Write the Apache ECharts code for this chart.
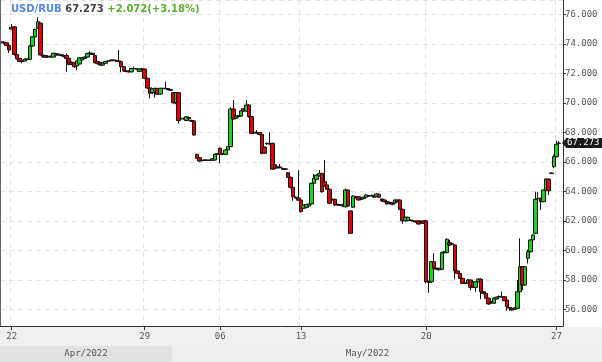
<!DOCTYPE html>
<html><head><meta charset="utf-8">
<script src="https://cdn.jsdelivr.net/npm/echarts@6/dist/echarts.min.js"></script>
<style>html,body{margin:0;padding:0;background:#fff}#c{width:602px;height:362px}</style>
</head><body><div id="c"></div>
<script>
const symbol = 'USD/RUB';
const prevClose = 65.201;
const sessions = [['2022-04-21',4],['2022-04-22',10],['2022-04-25',10],['2022-04-26',10],['2022-04-27',11],['2022-04-28',10],
  ['2022-04-29',11],['2022-05-04',9],['2022-05-05',9],['2022-05-06',10],['2022-05-11',11],['2022-05-12',10],
  ['2022-05-13',10],['2022-05-16',10],['2022-05-17',9],['2022-05-18',10],['2022-05-19',9],
  ['2022-05-20',10],['2022-05-23',10],['2022-05-24',10],['2022-05-25',10],['2022-05-26',10],['2022-05-27',2]];
const tickDates = ['2022-04-22','2022-04-29','2022-05-06','2022-05-13','2022-05-20','2022-05-27'];
const months = [['2022-04','Apr/2022'],['2022-05','May/2022']];

const opens = [74.08,74.12,74.07,73.88,75.00,75.15,73.28,73.00,72.90,72.83,72.95,72.95,73.85,74.46,75.05,75.40,73.24,73.20,73.10,73.17,
73.10,73.22,73.30,73.25,73.20,73.20,73.02,72.75,72.72,72.50,72.63,72.90,73.00,73.10,73.32,73.35,73.20,72.80,72.72,72.56,
72.68,72.80,72.85,72.90,72.88,72.85,72.79,72.45,72.16,72.14,72.10,72.33,72.30,72.12,72.29,72.29,71.66,71.02,70.70,70.80,
70.98,70.60,70.98,70.96,70.97,70.90,70.69,70.00,70.69,68.90,68.95,68.80,69.00,68.80,68.77,66.51,66.28,66.08,66.10,66.12,
66.10,66.10,66.12,66.50,66.92,66.50,66.50,66.80,67.03,69.58,68.95,69.12,69.10,69.60,69.44,69.85,69.06,67.95,68.00,67.98,
67.86,67.00,67.22,67.20,67.25,65.80,65.60,65.65,65.55,65.52,65.26,64.95,64.27,63.60,63.55,63.41,62.85,62.90,63.00,63.14,
64.54,64.81,65.05,65.22,64.65,64.43,64.14,63.45,63.46,63.12,63.08,63.10,62.95,64.09,62.67,62.92,63.63,63.63,63.45,63.50,
63.60,63.70,63.70,63.72,63.63,63.80,63.48,63.41,63.30,63.25,63.20,63.20,63.41,63.41,62.78,62.00,62.02,62.05,62.00,61.98,
62.00,61.95,62.00,62.00,57.90,57.87,59.23,58.78,58.78,58.71,59.84,59.84,60.52,60.45,60.36,58.60,58.44,58.10,57.80,57.76,
57.99,57.85,57.49,57.87,58.05,57.19,57.08,56.75,56.50,56.41,56.70,56.85,56.85,56.85,56.63,56.12,56.07,56.00,56.07,57.19,
58.89,57.65,59.46,59.90,60.70,61.15,63.50,63.53,63.30,64.04,64.83,65.20,65.67,66.35,67.25];
const closes = [74.12,74.06,73.88,73.58,75.12,73.28,72.98,72.80,72.80,72.97,72.96,73.85,74.48,74.98,75.50,73.24,73.13,73.08,73.15,73.10,
73.36,73.33,73.25,73.20,73.13,73.00,72.60,72.62,72.45,72.83,73.05,73.05,73.10,73.35,73.38,73.28,72.72,72.65,72.56,72.70,
72.80,72.84,72.90,72.86,72.84,72.80,72.45,72.16,72.12,72.10,72.33,72.31,72.27,72.29,72.30,71.66,71.00,70.64,70.95,70.98,
70.58,70.98,70.96,70.98,70.90,70.85,70.00,70.69,68.80,68.95,68.92,69.05,68.90,68.75,67.82,66.24,66.05,66.10,66.12,66.10,
66.12,66.20,66.51,66.55,66.50,66.55,66.80,67.03,69.58,68.90,69.10,69.08,69.45,69.44,69.85,69.06,67.93,68.00,67.95,67.85,
66.58,66.58,67.25,67.25,65.50,65.55,65.65,65.60,65.50,65.50,64.95,64.27,63.63,63.55,63.40,62.62,63.07,63.10,63.14,64.54,
64.88,65.10,65.20,63.97,64.36,64.14,63.19,63.42,63.07,63.08,63.05,63.00,64.09,63.00,61.15,63.68,63.58,63.41,63.48,63.60,
63.75,63.68,63.72,63.60,63.82,63.60,63.35,63.30,63.14,63.20,63.12,63.41,63.30,62.78,62.00,62.24,62.24,62.02,61.98,61.92,
61.78,61.90,61.82,57.87,57.82,59.23,58.78,58.72,58.68,59.84,59.90,60.75,60.36,60.40,58.60,58.44,58.10,57.76,57.78,57.99,
57.49,57.50,57.87,58.05,57.19,57.08,56.75,56.36,56.45,56.75,56.82,56.88,56.83,56.58,56.18,56.08,55.95,56.10,57.19,58.89,
57.65,58.89,59.90,60.70,61.04,63.46,63.53,63.30,64.09,64.83,64.04,65.24,66.35,67.19,67.273];
const lows = [74.02,74.00,73.85,73.38,74.95,73.20,72.95,72.75,72.68,72.80,72.90,72.90,73.80,74.40,75.00,73.20,73.05,73.05,73.08,73.05,
73.08,73.20,73.20,73.15,73.10,72.10,72.55,72.55,72.36,72.22,72.60,72.85,72.95,73.05,73.28,73.25,72.68,72.60,72.50,72.52,
72.64,72.76,72.82,72.82,72.80,72.78,72.07,72.10,72.06,72.05,72.06,72.28,72.22,72.08,72.24,71.60,70.95,70.30,70.60,70.35,
70.55,70.55,70.92,70.92,70.85,70.80,69.95,69.90,68.60,68.85,68.85,68.75,68.85,68.70,67.77,66.20,66.00,66.05,66.07,66.07,
66.08,66.08,66.10,66.45,65.90,66.45,66.45,66.75,67.00,68.85,68.90,69.00,69.05,69.40,69.40,69.00,67.90,67.90,67.90,67.80,
66.50,66.55,67.15,67.15,65.45,65.50,65.55,65.55,65.45,65.45,64.90,64.20,63.36,63.50,63.36,62.55,62.80,62.85,62.95,63.10,
64.50,64.75,65.00,63.90,64.30,64.10,63.15,63.38,63.00,63.02,63.00,62.96,62.90,62.95,61.10,62.90,63.50,63.38,63.40,63.46,
63.56,63.62,63.65,63.55,63.60,63.55,63.30,63.25,63.10,63.12,63.05,63.15,63.25,62.72,61.80,61.95,61.98,61.98,61.94,61.88,
61.74,61.85,61.78,57.76,57.13,57.80,58.72,58.65,58.62,58.65,59.78,59.80,60.30,60.35,58.03,58.40,58.05,57.70,57.72,57.72,
57.30,57.45,57.19,57.82,56.68,57.00,56.70,56.30,56.38,56.38,56.66,56.80,56.80,56.55,55.90,55.90,55.90,55.95,56.05,57.15,
57.30,57.60,59.10,59.85,60.65,61.10,62.73,62.73,63.25,64.00,63.75,65.18,65.56,66.30,67.20];
const highs = [74.16,74.15,74.10,73.90,75.35,75.20,73.30,73.02,72.95,73.00,73.00,73.90,74.50,75.02,75.80,75.45,73.28,73.22,73.20,73.20,
73.40,73.38,73.33,73.28,73.25,73.35,73.05,72.80,72.75,72.88,73.10,73.10,73.15,73.40,73.50,73.40,73.25,72.85,72.78,72.74,
72.84,72.88,72.94,72.94,72.92,73.58,72.82,72.48,72.20,72.18,72.36,72.45,72.34,72.33,72.36,72.32,71.70,71.05,71.00,71.02,
71.00,71.02,71.02,71.43,71.00,70.95,70.72,70.72,70.72,69.00,69.00,69.10,69.05,68.85,68.80,66.55,66.30,66.14,66.15,66.15,
66.15,66.24,66.55,66.60,66.95,66.60,66.85,67.06,69.70,70.19,69.15,69.15,69.50,69.65,70.19,69.90,69.10,68.05,68.15,68.00,
67.90,67.05,67.30,68.00,67.30,65.85,65.70,65.85,65.60,65.56,65.30,65.00,64.30,63.65,65.44,63.45,63.10,63.15,63.18,64.60,
65.17,65.15,65.44,65.25,66.12,64.46,64.18,63.50,63.50,63.15,63.12,63.12,64.20,64.12,62.70,63.72,63.68,63.67,63.52,63.64,
63.80,63.75,63.78,63.76,63.86,63.85,63.50,63.45,63.33,63.30,63.25,63.45,63.45,63.45,62.82,62.28,62.28,62.10,62.05,62.02,
62.04,62.00,62.04,62.04,57.95,59.28,59.80,58.82,58.82,59.90,59.95,60.80,60.70,60.50,60.40,58.65,58.48,58.14,57.85,58.05,
58.02,57.88,57.90,58.10,58.10,57.22,57.10,56.80,56.55,56.80,56.86,56.92,57.20,56.90,56.66,56.15,56.10,56.15,57.99,60.81,
58.92,58.92,60.05,60.75,61.08,63.97,63.97,63.56,64.12,64.88,64.86,65.28,66.50,67.43,67.40];

// categories (one per candle) + one empty slot at the right edge
const categories = [];
sessions.forEach(([d, n]) => { for (let k = 1; k <= n; k++) categories.push(d + ' ' + k); });
categories.push('');
const tickSet = new Set(tickDates.map(d => categories.indexOf(d + ' 1')));
const ohlc = opens.map((o, i) => [o, closes[i], lows[i], highs[i]]);
const last = closes[closes.length - 1];
const chg = last - prevClose;
const pct = chg / prevClose * 100;

const MONO = 'DejaVu Sans Mono';
const GRID = {left: 0, right: 39, top: 0, bottom: 36};
const chart = echarts.init(document.getElementById('c'), null, {renderer: 'canvas'});
const showTick = (idx) => tickSet.has(idx);

chart.setOption({
  animation: false,
  backgroundColor: '#fff',
  title: {
    left: 11, top: 4, padding: 0,
    text: '{a|' + symbol + '} {b|' + last.toFixed(3) + '} {c|' + (chg >= 0 ? '+' : '') + chg.toFixed(3) + '(' + (pct >= 0 ? '+' : '') + pct.toFixed(2) + '%)}',
    textStyle: {
      fontFamily: 'DejaVu Sans', fontSize: 10, fontWeight: 'bold',
      rich: {
        a: {color: '#4f86ef', fontFamily: 'DejaVu Sans', fontSize: 10, fontWeight: 'bold'},
        b: {color: '#444', fontFamily: 'DejaVu Sans', fontSize: 10, fontWeight: 'bold'},
        c: {color: '#5aaf30', fontFamily: 'DejaVu Sans', fontSize: 10, fontWeight: 'bold'}
      }
    }
  },
  grid: GRID,
  xAxis: {
    type: 'category', data: categories, boundaryGap: true,
    axisLine: {lineStyle: {color: '#333', width: 1}},
    axisTick: {show: true, alignWithLabel: true, interval: showTick, length: 4, lineStyle: {color: '#333'}},
    axisLabel: {interval: showTick, margin: 6, color: '#555', fontFamily: MONO, fontSize: 9,
      formatter: v => v ? v.slice(8, 10) : ''},
    splitLine: {show: true, interval: showTick, lineStyle: {color: '#e2e2e2', type: [5, 4]}}
  },
  yAxis: {
    type: 'value', position: 'right', scale: true,
    min: 54.868, max: 76.97, splitNumber: 11,
    axisLine: {show: true, lineStyle: {color: '#333'}},
    axisTick: {show: true, length: 3, lineStyle: {color: '#333'}},
    axisLabel: {margin: 2, color: '#555', fontFamily: MONO, fontSize: 9, showMinLabel: false, showMaxLabel: false,
      formatter: v => (Math.abs(v / 2 - Math.round(v / 2)) < 1e-6) ? v.toFixed(3) : ''},
    splitLine: {show: true, lineStyle: {color: '#e2e2e2', type: [5, 4]}}
  },
  series: [{
    type: 'candlestick', data: ohlc, barWidth: 4,
    itemStyle: {color: '#17d617', color0: '#e80000', borderColor: '#111', borderColor0: '#111', borderColorDoji: '#111', borderWidth: 1}
  }]
});

// decorations placed via the axes' own scales
const cx = i => chart.convertToPixel({xAxisIndex: 0}, i);
const band = cx(1) - cx(0);
const plotRight = 602 - GRID.right;
const plotBottom = 362 - GRID.bottom;
const mayIdx = categories.findIndex(c => c.startsWith(months[1][0]));
const split = cx(mayIdx) - band / 2;
const yLast = chart.convertToPixel({yAxisIndex: 0}, last);

chart.setOption({
  graphic: [
    {type: 'rect', z: -1, silent: true, shape: {x: 0, y: plotBottom + 1, width: 602, height: 362 - plotBottom - 1}, style: {fill: '#f0f0f2'}},
    {type: 'rect', z: -1, silent: true, shape: {x: 0, y: plotBottom + 20, width: split, height: 16}, style: {fill: '#e2e2e5'}},
    {type: 'rect', z: -1, silent: true, shape: {x: split, y: plotBottom + 20, width: 602 - split, height: 16}, style: {fill: '#eeeef0'}},
    {type: 'text', z: 5, silent: true, x: split / 2, y: plotBottom + 28,
      style: {text: months[0][1], fill: '#555', font: '9px "' + MONO + '"', textAlign: 'center', textVerticalAlign: 'middle'}},
    {type: 'text', z: 5, silent: true, x: (split + plotRight) / 2, y: plotBottom + 28,
      style: {text: months[1][1], fill: '#555', font: '9px "' + MONO + '"', textAlign: 'center', textVerticalAlign: 'middle'}},
    {type: 'line', z: 5, silent: true, shape: {x1: 0.5, y1: 0, x2: 0.5, y2: plotBottom}, style: {stroke: '#666', lineWidth: 1}},
    {type: 'polygon', z: 10, silent: true, shape: {points: [[plotRight - 1, yLast], [plotRight + 3, yLast - 4.5], [plotRight + 3, yLast + 4.5]]}, style: {fill: '#1a1a1a'}},
    {type: 'rect', z: 10, silent: true, shape: {x: plotRight + 3, y: yLast - 5, width: 602 - plotRight - 3, height: 10}, style: {fill: '#1a1a1a'}},
    {type: 'text', z: 11, silent: true, x: plotRight + 4, y: yLast,
      style: {text: last.toFixed(3), fill: '#fff', font: '9px "' + MONO + '"', textAlign: 'left', textVerticalAlign: 'middle'}}
  ]
});
</script>
</body></html>
